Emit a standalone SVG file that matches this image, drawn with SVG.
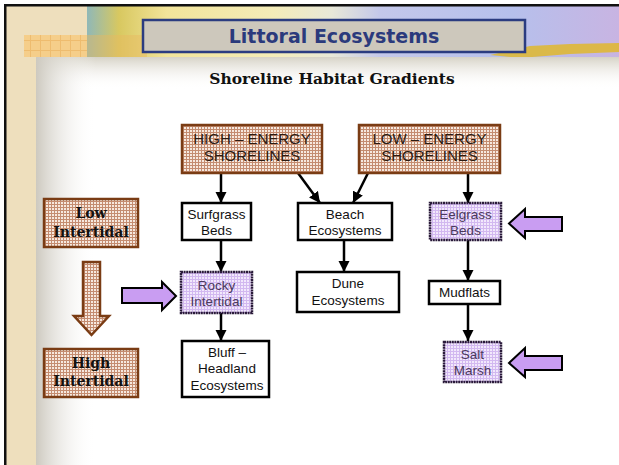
<svg xmlns="http://www.w3.org/2000/svg" width="619" height="465" viewBox="0 0 619 465">
<defs>
<pattern id="brownChk" width="3" height="3" patternUnits="userSpaceOnUse">
<rect width="3" height="3" fill="#f6e8de"/>
<rect width="3" height="1" fill="#c48c70"/>
<rect width="1" height="3" fill="#c48c70"/>
</pattern>
<pattern id="purpChk" width="3" height="3" patternUnits="userSpaceOnUse">
<rect width="3" height="3" fill="#f2e8fc"/>
<rect width="3" height="1" fill="#d2b8f0"/>
<rect width="1" height="3" fill="#d2b8f0"/>
</pattern>
<pattern id="orangeGrid" width="10" height="10" patternUnits="userSpaceOnUse">
<rect width="10" height="10" fill="#f6cc84"/>
<rect width="10" height="1" fill="#eeb866"/>
<rect width="1" height="10" fill="#eeb866"/>
</pattern>
<linearGradient id="banner" x1="0" y1="0" x2="1" y2="0">
<stop offset="0" stop-color="#8fb8b8"/>
<stop offset="0.06" stop-color="#d8c860"/>
<stop offset="0.15" stop-color="#f2e49a"/>
<stop offset="0.35" stop-color="#f4ecb8"/>
<stop offset="0.46" stop-color="#e8e8d8"/>
<stop offset="0.55" stop-color="#c4c8ea"/>
<stop offset="0.8" stop-color="#b6c0ec"/>
<stop offset="1" stop-color="#c8b4e2"/>
</linearGradient>
<linearGradient id="leftShade" x1="0" y1="0" x2="1" y2="0">
<stop offset="0" stop-color="#cdc9bf"/>
<stop offset="1" stop-color="#ffffff" stop-opacity="0"/>
</linearGradient>
<linearGradient id="topShade" x1="0" y1="0" x2="0" y2="1">
<stop offset="0" stop-color="#d6d2c6"/>
<stop offset="1" stop-color="#ffffff" stop-opacity="0"/>
</linearGradient>
<marker id="ah" markerUnits="userSpaceOnUse" markerWidth="12" markerHeight="12" refX="11" refY="6" orient="auto">
<path d="M0,0.5 L11,6 L0,11.5 z" fill="#000"/>
</marker>
<style>
.conn line { stroke: #000; stroke-width: 2.5; marker-end: url(#ah); }
.plain { fill: #fff; stroke: #000; stroke-width: 2.5; }
.brown { fill: url(#brownChk); stroke: #7a3c14; stroke-width: 2.5; }
.purp { fill: url(#purpChk); stroke: #2a1a3a; stroke-width: 2.5; stroke-dasharray: 2 0.6; }
.parrow { fill: #c99df2; stroke: #000; stroke-width: 2; stroke-linejoin: miter; }
.t { font-family: "Liberation Sans", Arial, sans-serif; font-size: 13.5px; fill: #111; text-anchor: middle; }
.tp { fill: #4a3a5c; }
.th { font-family: "Liberation Sans", Arial, sans-serif; font-size: 15px; fill: #2a1a12; text-anchor: middle; }
.ts { font-family: "DejaVu Serif", Georgia, serif; font-weight: bold; font-size: 14px; fill: #111; text-anchor: middle; }
</style>
</defs>

<!-- background -->
<rect width="619" height="465" fill="#ffffff"/>
<rect x="6" y="6" width="30" height="459" fill="#eedfbd"/>
<rect x="6" y="6" width="613" height="51" fill="#eedfbd"/>
<rect x="87" y="6" width="532" height="51" fill="url(#banner)"/>
<rect x="24" y="35" width="63" height="22" fill="url(#orangeGrid)" opacity="0.9"/>
<rect x="87" y="35" width="60" height="22" fill="#e8b860" opacity="0.45"/>
<path d="M490,55 L530,46 L570,44 L619,43 L619,52 L570,54 L520,58 Z" fill="#e2b820" opacity="0.8"/>
<rect x="36" y="57" width="583" height="32" fill="url(#topShade)"/>
<rect x="36" y="57" width="60" height="408" fill="url(#leftShade)"/>
<rect x="4" y="4" width="615" height="2.5" fill="#111"/>
<rect x="4" y="4" width="2.5" height="461" fill="#111"/>

<!-- title -->
<g id="title">
<rect x="143" y="20" width="382" height="32" fill="#cdc8bc" stroke="#2b3c80" stroke-width="2.5"/>
<text x="334" y="43" font-family="'DejaVu Sans', Tahoma, sans-serif" font-weight="bold" font-size="19" fill="#2b3a7c" text-anchor="middle">Littoral Ecosystems</text>
</g>
<g id="subtitle">
<text x="332" y="84" font-family="'DejaVu Serif', Georgia, serif" font-weight="bold" font-size="15.5" fill="#111" text-anchor="middle">Shoreline Habitat Gradients</text>
</g>

<!-- connectors -->
<g id="connectors" class="conn">
<line x1="221" y1="173" x2="221" y2="203"/>
<line x1="298" y1="173" x2="320" y2="203"/>
<line x1="368" y1="173" x2="353" y2="203"/>
<line x1="468" y1="173" x2="468" y2="203"/>
<line x1="221" y1="240" x2="221" y2="272"/>
<line x1="221" y1="313" x2="221" y2="341"/>
<line x1="344" y1="240" x2="344" y2="272"/>
<line x1="468" y1="240" x2="468" y2="281"/>
<line x1="468" y1="304" x2="468" y2="341"/>
</g>

<!-- nodes -->
<g id="high-energy">
<rect class="brown" x="182" y="125" width="140" height="48"/>
<text class="th" x="252" y="144">HIGH – ENERGY</text>
<text class="th" x="252" y="161">SHORELINES</text>
</g>
<g id="low-energy">
<rect class="brown" x="359" y="125" width="141" height="48"/>
<text class="th" x="429.5" y="144">LOW – ENERGY</text>
<text class="th" x="429.5" y="161">SHORELINES</text>
</g>
<g id="surfgrass">
<rect class="plain" x="182" y="203" width="69" height="37"/>
<text class="t" x="216.5" y="219">Surfgrass</text>
<text class="t" x="216.5" y="235">Beds</text>
</g>
<g id="beach">
<rect class="plain" x="298" y="203" width="94" height="37"/>
<text class="t" x="345" y="219">Beach</text>
<text class="t" x="345" y="235">Ecosystems</text>
</g>
<g id="eelgrass">
<rect class="purp" x="430" y="203" width="71" height="37"/>
<text class="t tp" x="465.5" y="219">Eelgrass</text>
<text class="t tp" x="465.5" y="235">Beds</text>
</g>
<g id="rocky">
<rect class="purp" x="181" y="272" width="71" height="41"/>
<text class="t tp" x="216.5" y="290">Rocky</text>
<text class="t tp" x="216.5" y="306">Intertidal</text>
</g>
<g id="dune">
<rect class="plain" x="297" y="272" width="102" height="40"/>
<text class="t" x="348" y="288">Dune</text>
<text class="t" x="348" y="305">Ecosystems</text>
</g>
<g id="mudflats">
<rect class="plain" x="429" y="281" width="71" height="23"/>
<text class="t" x="464.5" y="297">Mudflats</text>
</g>
<g id="bluff">
<rect class="plain" x="182" y="341" width="87" height="56"/>
<text class="t" x="227" y="357">Bluff –</text>
<text class="t" x="227" y="373">Headland</text>
<text class="t" x="227" y="390">Ecosystems</text>
</g>
<g id="salt-marsh">
<rect class="purp" x="444" y="342" width="57" height="40"/>
<text class="t tp" x="472.5" y="359">Salt</text>
<text class="t tp" x="472.5" y="375">Marsh</text>
</g>
<g id="low-intertidal">
<rect class="brown" x="44" y="199" width="94" height="48"/>
<text class="ts" x="91" y="218">Low</text>
<text class="ts" x="91" y="237">Intertidal</text>
</g>
<g id="high-intertidal">
<rect class="brown" x="44" y="349" width="94" height="48"/>
<text class="ts" x="91" y="368">High</text>
<text class="ts" x="91" y="386">Intertidal</text>
</g>
<g id="gradient-arrow">
<polygon class="brown" points="83,262 100,262 100,316 109,316 91.5,335 74,316 83,316"/>
</g>
<g id="pointer-rocky">
<polygon class="parrow" points="122,288 162,288 162,282 176,296 162,310 162,303 122,303"/>
</g>
<g id="pointer-eelgrass">
<polygon class="parrow" points="562,217 525,217 525,209 509,223.5 525,238 525,231 562,231"/>
</g>
<g id="pointer-salt">
<polygon class="parrow" points="562,356 525,356 525,348 509,363 525,377 525,370 562,370"/>
</g>
</svg>
